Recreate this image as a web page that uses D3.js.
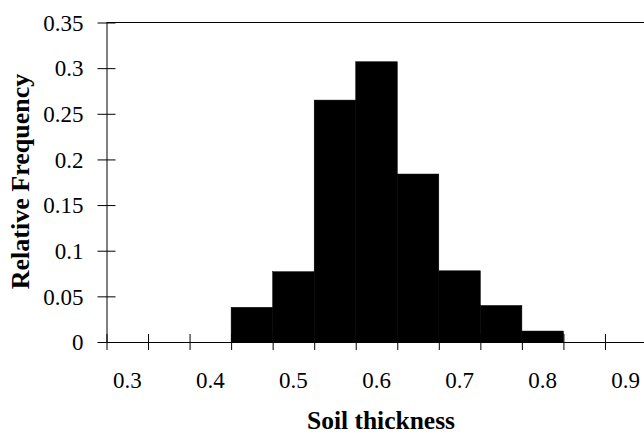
<!DOCTYPE html>
<html>
<head>
<meta charset="utf-8">
<script src="https://cdn.jsdelivr.net/npm/d3@7"></script>
<style>
  html, body { margin: 0; padding: 0; background: #fff; }
  svg { display: block; }
  text { font-family: "Liberation Serif", "Times New Roman", serif; fill: #000; }
</style>
</head>
<body>
<svg id="chart" width="644" height="435"></svg>
<script>
// Data
const categories = ["0.3","0.35","0.4","0.45","0.5","0.55","0.6","0.65","0.7","0.75","0.8","0.85","0.9"];
const frequencies = [0, 0, 0, 0.038, 0.077, 0.265, 0.307, 0.184, 0.078, 0.040, 0.012, 0, 0];
const yTickValues = [0, 0.05, 0.1, 0.15, 0.2, 0.25, 0.3, 0.35];
const xTickLabels = ["0.3","0.4","0.5","0.6","0.7","0.8","0.9"];
const xTitle = "Soil thickness";
const yTitle = "Relative Frequency";

(function () {
const serif = "'Liberation Serif', 'Times New Roman', serif";
const svg = d3.select("#chart");
const mLeft = 106.5, mRight = 646.5, mTop = 22.5, mBottom = 342;

const x = d3.scaleBand().domain(categories).range([mLeft, mRight]).padding(0);
const xEdges = d3.scaleLinear().domain([0, categories.length]).range([mLeft, mRight]);
const y = d3.scaleLinear().domain([0, 0.35]).range([mBottom, mTop]);

// top frame line
svg.append("line")
  .attr("x1", mLeft).attr("x2", 644)
  .attr("y1", y(0.35)).attr("y2", y(0.35))
  .attr("stroke", "#000").attr("stroke-width", 1);

// bars
svg.append("g").selectAll("rect")
  .data(categories.map((c, i) => ({c, v: frequencies[i]})).filter(d => d.v > 0))
  .join("rect")
  .attr("x", d => x(d.c))
  .attr("width", x.bandwidth())
  .attr("y", d => y(d.v))
  .attr("height", d => y(0) - y(d.v))
  .attr("fill", "#000")
  .attr("stroke", "#000")
  .attr("stroke-width", 0.5);

// y axis (ticks cross the axis)
const yAxis = svg.append("g")
  .attr("transform", `translate(${mLeft},0)`)
  .call(d3.axisLeft(y).tickValues(yTickValues).tickSize(0).tickFormat(d => String(+d.toFixed(2))))
  .attr("font-family", serif);
yAxis.select(".domain").attr("stroke", "#000");
yAxis.selectAll(".tick line").attr("x1", -9).attr("x2", 9).attr("stroke", "#000");
yAxis.selectAll(".tick text")
  .attr("x", -23)
  .attr("dy", "0.34em")
  .attr("font-family", serif)
  .style("font-family", serif)
  .style("font-size", "23px")
  .attr("fill", "#000");

// x axis: ticks at bin boundaries, crossing the axis
const xAxis = svg.append("g")
  .attr("transform", `translate(0,${mBottom})`)
  .call(d3.axisBottom(xEdges).tickValues(d3.range(0, categories.length + 1)).tickSize(0).tickFormat(""));
xAxis.select(".domain").attr("stroke", "#000");
xAxis.selectAll(".tick line").attr("y1", -8).attr("y2", 8).attr("stroke", "#000");

// x tick labels at category centres
svg.append("g").selectAll("text")
  .data(xTickLabels)
  .join("text")
  .attr("x", d => x(d) + x.bandwidth() / 2)
  .attr("y", 388)
  .attr("text-anchor", "middle")
  .style("font-family", serif)
  .style("font-size", "23px")
  .text(d => d);

// titles
svg.append("text")
  .attr("x", 381).attr("y", 429)
  .attr("text-anchor", "middle")
  .style("font-family", serif)
  .style("font-size", "25.5px").style("font-weight", "bold")
  .text(xTitle);

svg.append("text")
  .attr("transform", "translate(29,181.5) rotate(-90)")
  .attr("text-anchor", "middle")
  .style("font-family", serif)
  .style("font-size", "26px").style("font-weight", "bold")
  .text(yTitle);
})();
</script>
</body>
</html>
